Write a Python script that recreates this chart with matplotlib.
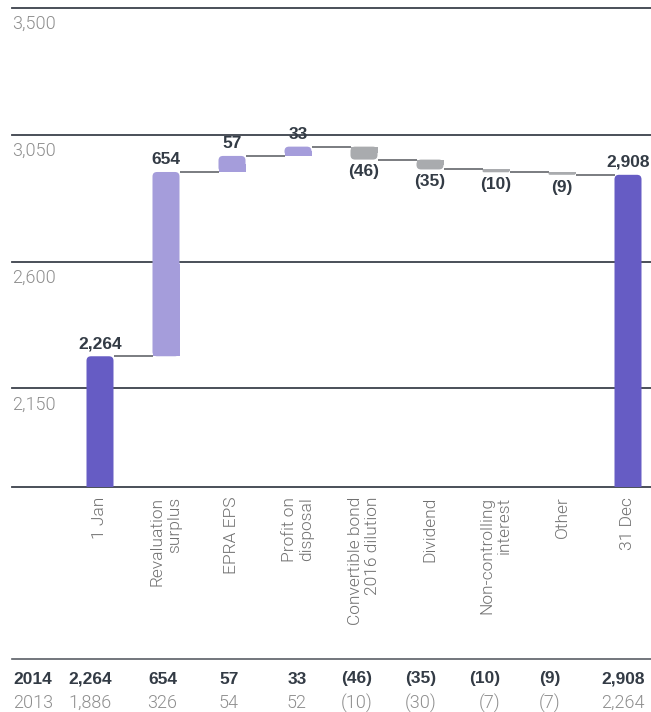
import matplotlib
matplotlib.use("Agg")
import matplotlib.pyplot as plt
from matplotlib.patches import FancyBboxPatch, Rectangle
from matplotlib.lines import Line2D

# ---- data -------------------------------------------------------------
categories = ["1 Jan", "Revaluation\nsurplus", "EPRA EPS", "Profit on\ndisposal",
              "Convertible bond\n2016 dilution", "Dividend",
              "Non-controlling\ninterest", "Other", "31 Dec"]
opening = 2264
movements = [654, 57, 33, -46, -35, -10, -9]
closing = 2908
row_2014 = ["2,264", "654", "57", "33", "(46)", "(35)", "(10)", "(9)", "2,908"]
row_2013 = ["1,886", "326", "54", "52", "(10)", "(30)", "(7)", "(7)", "2,264"]
y_ticks = [2150, 2600, 3050, 3500]

# ---- style ------------------------------------------------------------
W, H, DPI = 651, 712, 100
C_TOTAL = "#665cc4"
C_UP = "#a59ddb"
C_DOWN = "#a9abae"
C_GRID = "#3b414b"
C_VALUE = "#333b45"
C_LIGHT = "#8e8e8e"
C_CAT = "#707070"
LIGHT_FONT = dict(family=["Roboto", "DejaVu Sans"], fontweight=300)
BOLD_FONT = dict(family=["Liberation Sans", "DejaVu Sans"], fontweight="bold")

fig = plt.figure(figsize=(W / DPI, H / DPI), dpi=DPI)
ax_left, ax_right, ax_top, ax_bottom = 12, 651, 8, 487
ax = fig.add_axes([ax_left / W, 1 - ax_bottom / H,
                   (ax_right - ax_left) / W, (ax_bottom - ax_top) / H])

y_min, y_max = 1800, 3500
x_step_px = 66.0
first_px = 100.0
ax.set_xlim(-(first_px - ax_left) / x_step_px, (ax_right - first_px) / x_step_px)
ax.set_ylim(y_min, y_max)

x_per_px = 1.0 / x_step_px
y_per_px = (y_max - y_min) / (ax_bottom - ax_top)
aspect = y_per_px / x_per_px
bar_w = 27 * x_per_px


def rounded_bar(xc, lo, hi, color, round_top):
    h_px = (hi - lo) / y_per_px
    r_px = min(4.5, h_px / 2.0, 13.0)
    r = r_px * x_per_px
    ax.add_patch(FancyBboxPatch((xc - bar_w / 2, lo), bar_w, hi - lo,
                                boxstyle=f"round,pad=0,rounding_size={r}",
                                mutation_aspect=aspect, fc=color, ec="none",
                                lw=0, zorder=3))
    half = (hi - lo) / 2.0
    start = lo if round_top else lo + half
    ax.add_patch(Rectangle((xc - bar_w / 2, start), bar_w, half,
                           fc=color, ec="none", lw=0, zorder=3))


def value_label(xc, y, text, above):
    ax.annotate(text, xy=(xc, y), xytext=(0, 3.5 if above else -3.5),
                textcoords="offset points", ha="center",
                va="bottom" if above else "top", fontsize=12.5,
                color=C_VALUE, zorder=5, **BOLD_FONT)


# ---- bars -------------------------------------------------------------
levels = []
rounded_bar(0, 0, opening, C_TOTAL, True)
value_label(0, opening, f"{opening:,}", True)
running = opening
levels.append(running)
for i, mv in enumerate(movements, start=1):
    new = running + mv
    if mv >= 0:
        rounded_bar(i, running, new, C_UP, True)
        value_label(i, new, f"{mv:,}", True)
    else:
        rounded_bar(i, new, running, C_DOWN, False)
        value_label(i, new, f"({-mv:,})", False)
    running = new
    levels.append(running)
last = len(categories) - 1
rounded_bar(last, 0, closing, C_TOTAL, True)
value_label(last, closing, f"{closing:,}", True)

# connectors between consecutive bars
for i, lvl in enumerate(levels):
    ax.plot([i + bar_w / 2, i + 1 - bar_w / 2], [lvl, lvl],
            color="#63666b", lw=1.2, solid_capstyle="butt", zorder=2)

# ---- axes -------------------------------------------------------------
for t in y_ticks:
    ax.axhline(t, color=C_GRID, lw=1.3, zorder=1, clip_on=False)
    ax.annotate(f"{t:,}", xy=(0, t), xycoords=("axes fraction", "data"),
                xytext=(0, -5), textcoords="offset points", ha="left",
                va="top", fontsize=13, color=C_LIGHT, **LIGHT_FONT)

for s in ["top", "left", "right"]:
    ax.spines[s].set_visible(False)
ax.spines["bottom"].set_color(C_GRID)
ax.spines["bottom"].set_linewidth(1.3)
ax.set_yticks([])
ax.set_xticks(range(len(categories)))
ax.set_xticklabels(categories, rotation=90, ha="center", va="top",
                   multialignment="right", fontsize=12.5, color=C_CAT,
                   **LIGHT_FONT)
ax.tick_params(axis="x", length=0, pad=7)

# ---- table ------------------------------------------------------------
fig.add_artist(Line2D([12 / W, 1.0], [1 - 659 / H, 1 - 659 / H],
                      color="#5a5f66", lw=1.2))
col_right = [112, 177, 239, 307, 372, 436, 500, 560, 645]
fig.text(13 / W, 1 - 679 / H, "2014", ha="left", va="center", fontsize=12.5,
         color=C_VALUE, **BOLD_FONT)
fig.text(13 / W, 1 - 703 / H, "2013", ha="left", va="center", fontsize=13,
         color=C_LIGHT, **LIGHT_FONT)
for xr, a, b in zip(col_right, row_2014, row_2013):
    fig.text(xr / W, 1 - 679 / H, a, ha="right", va="center", fontsize=12.5,
             color=C_VALUE, **BOLD_FONT)
    fig.text(xr / W, 1 - 703 / H, b, ha="right", va="center", fontsize=13,
             color=C_LIGHT, **LIGHT_FONT)

fig.savefig("out.png", dpi=DPI)
